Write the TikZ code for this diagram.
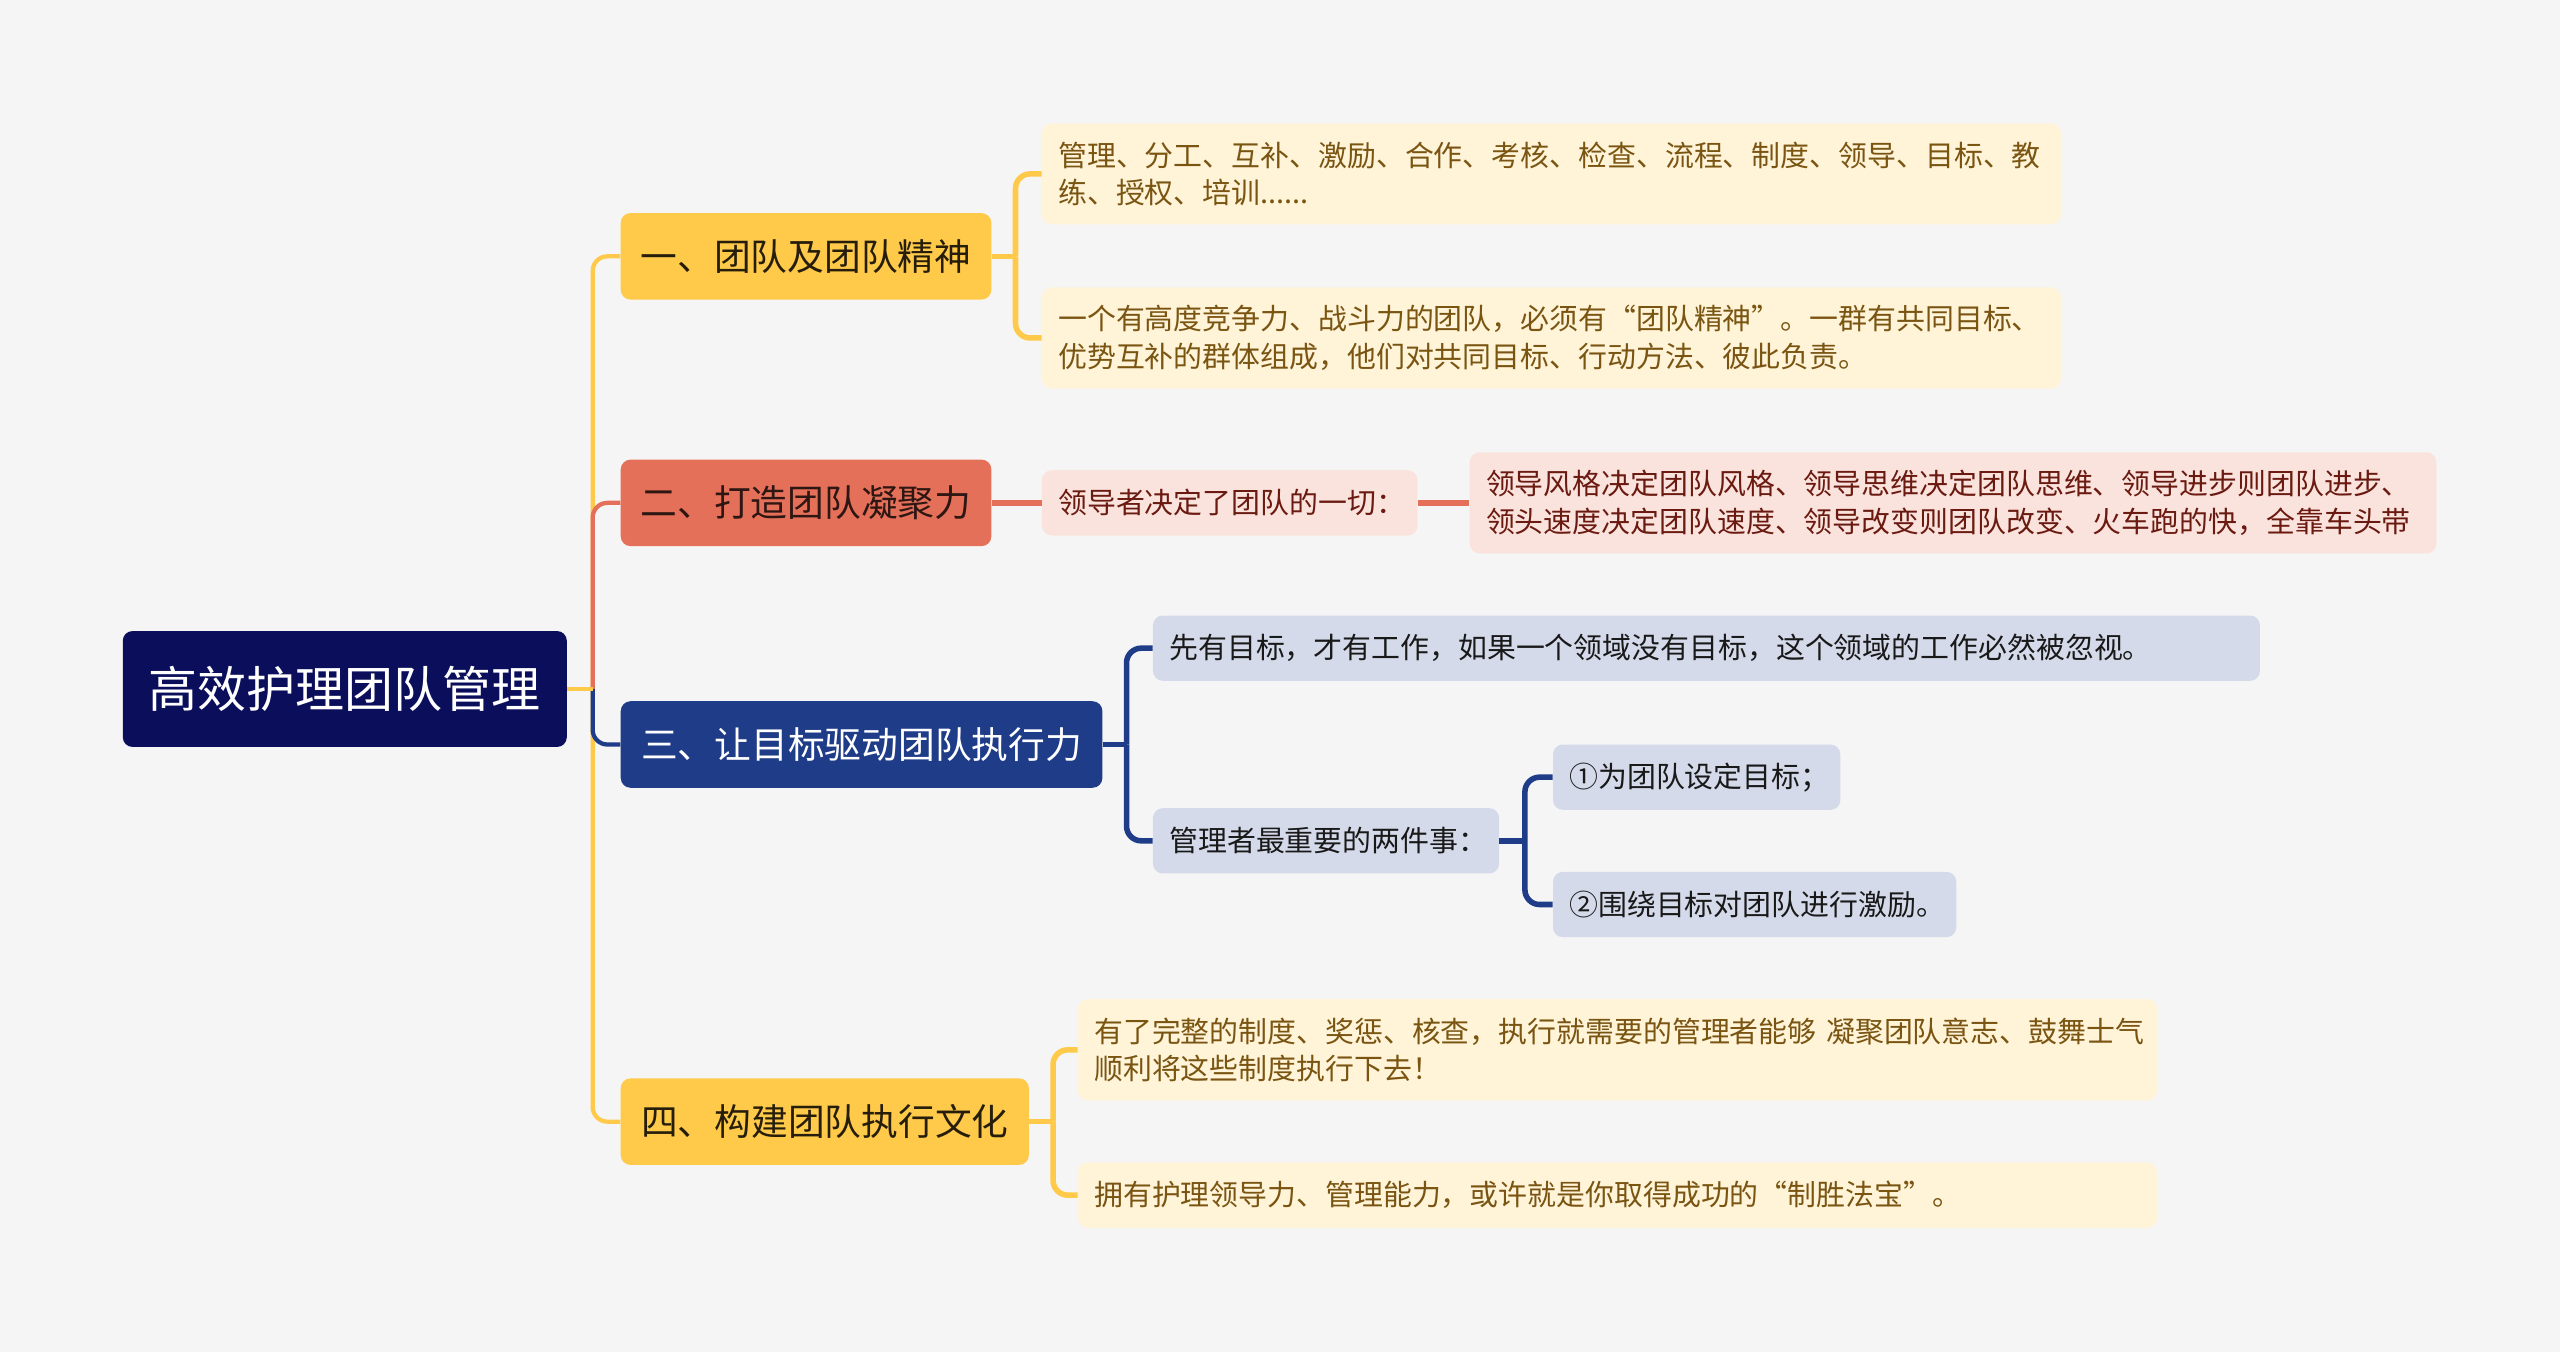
\documentclass[tikz,border=0pt]{standalone}
\usepackage{fontspec}
\setmainfont{Noto Sans CJK SC}
\usetikzlibrary{positioning}

\begin{document}
\begin{tikzpicture}[x=1pt, y=-1pt,
  box/.style={rounded corners=6pt, inner sep=0pt, anchor=west},
  rootbox/.style={box, fill=rootc, text=white, minimum width=272pt, minimum height=71pt,
    font=\fontsize{30}{36}\selectfont},
  topic/.style={box, minimum height=53pt, font=\fontsize{22.5}{27}\selectfont},
  leaf/.style={box, inner xsep=10pt, align=left, minimum height=40pt,
    font=\fontsize{17.7}{23}\selectfont},
  tall/.style={minimum height=62pt},
  trunk/.style={line width=2.6pt, rounded corners=9pt},
  twig/.style={line width=3.4pt, rounded corners=9pt}]

\definecolor{bgc}{HTML}{F5F5F5}
\definecolor{rootc}{HTML}{0B0E5A}
\definecolor{ylwc}{HTML}{FFC94A}
\definecolor{redc}{HTML}{E4705A}
\definecolor{bluec}{HTML}{1F3C88}
\definecolor{ylwleaf}{HTML}{FFF3D8}
\definecolor{redleaf}{HTML}{FBE3DD}
\definecolor{blueleaf}{HTML}{D5DAEA}
\definecolor{ylwtext}{HTML}{7A5512}
\definecolor{redtext}{HTML}{6A1A10}

\fill[bgc] (0,0) rectangle (1568,828);
\useasboundingbox (0,0) rectangle (1568,828);

% root and main topics
\node[rootbox] (root) at (75,422) {高效护理团队管理};
\node[topic, fill=ylwc, text=black!85!ylwc, minimum width=227pt] (t1) at (380,157) {一、团队及团队精神};
\node[topic, fill=redc, text=black!80!redc, minimum width=227pt] (t2) at (380,308) {二、打造团队凝聚力};
\node[topic, fill=bluec, text=white, minimum width=295pt] (t3) at (380,456) {三、让目标驱动团队执行力};
\node[topic, fill=ylwc, text=black!85!ylwc, minimum width=250pt] (t4) at (380,687) {四、构建团队执行文化};

% topic 1
\node[leaf, tall, fill=ylwleaf, text=ylwtext, text width=604pt] (l1a) at (638,106.5)
  {管理、分工、互补、激励、合作、考核、检查、流程、制度、领导、目标、教\\练、授权、培训......};
\node[leaf, tall, fill=ylwleaf, text=ylwtext, text width=604pt] (l1b) at (638,207)
  {一个有高度竞争力、战斗力的团队，必须有“团队精神”。一群有共同目标、\\优势互补的群体组成，他们对共同目标、行动方法、彼此负责。};

% topic 2
\node[leaf, fill=redleaf, text=redtext, text width=210pt] (l2a) at (638,308) {领导者决定了团队的一切：};
\node[leaf, tall, fill=redleaf, text=redtext, text width=572pt] (l2b) at (900,308)
  {领导风格决定团队风格、领导思维决定团队思维、领导进步则团队进步、\\领头速度决定团队速度、领导改变则团队改变、火车跑的快，全靠车头带};

% topic 3
\node[leaf, fill=blueleaf, text=black!90, text width=658pt] (l3a) at (706,397)
  {先有目标，才有工作，如果一个领域没有目标，这个领域的工作必然被忽视。};
\node[leaf, fill=blueleaf, text=black!90, text width=192pt] (l3b) at (706,515) {管理者最重要的两件事：};
\node[leaf, fill=blueleaf, text=black!90, text width=156pt] (l3c) at (951,476) {①为团队设定目标；};
\node[leaf, fill=blueleaf, text=black!90, text width=227pt] (l3d) at (951,554) {②围绕目标对团队进行激励。};

% topic 4
\node[leaf, tall, fill=ylwleaf, text=ylwtext, text width=641pt] (l4a) at (660,643)
  {有了完整的制度、奖惩、核查，执行就需要的管理者能够~凝聚团队意志、鼓舞士气\\顺利将这些制度执行下去！};
\node[leaf, fill=ylwleaf, text=ylwtext, text width=641pt] (l4b) at (660,732)
  {拥有护理领导力、管理能力，或许就是你取得成功的“制胜法宝”。};

% connectors
\coordinate (trk) at (363,422);
\draw[trunk, ylwc] (trk) |- (t1.west);
\draw[trunk, ylwc] (trk) |- (t4.west);
\draw[trunk, redc] (trk) |- (t2.west);
\draw[trunk, bluec] (trk) |- (t3.west);
\draw[trunk, ylwc, rounded corners=0pt] (root.east) -- (trk);

\coordinate (j1) at (622,157);
\draw[twig, ylwc, rounded corners=0pt] (t1.east) -- (j1);
\draw[twig, ylwc] (j1) |- (l1a.west);
\draw[twig, ylwc] (j1) |- (l1b.west);

\draw[twig, redc] (t2.east) -- (l2a.west);
\draw[twig, redc] (l2a.east) -- (l2b.west);

\coordinate (j3) at (690,456);
\draw[twig, bluec, rounded corners=0pt] (t3.east) -- (j3);
\draw[twig, bluec] (j3) |- (l3a.west);
\draw[twig, bluec] (j3) |- (l3b.west);
\coordinate (j3b) at (934,515);
\draw[twig, bluec, rounded corners=0pt] (l3b.east) -- (j3b);
\draw[twig, bluec] (j3b) |- (l3c.west);
\draw[twig, bluec] (j3b) |- (l3d.west);

\coordinate (j4) at (645,687);
\draw[twig, ylwc, rounded corners=0pt] (t4.east) -- (j4);
\draw[twig, ylwc] (j4) |- (l4a.west);
\draw[twig, ylwc] (j4) |- (l4b.west);

\end{tikzpicture}
\end{document}
